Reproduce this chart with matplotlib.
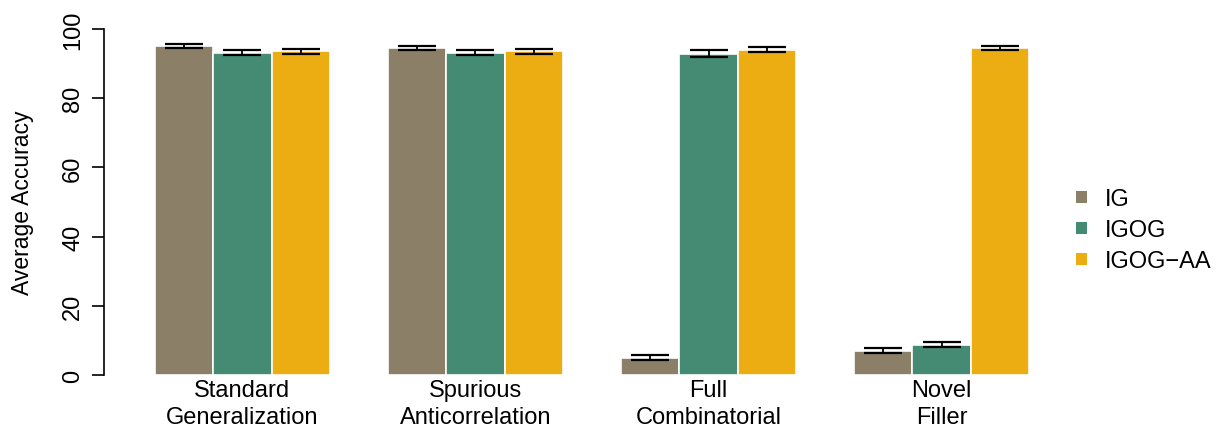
import numpy as np
import matplotlib
matplotlib.use('Agg')
import matplotlib.pyplot as plt
from matplotlib.patches import Patch

plt.rcParams['font.family'] = ['Liberation Sans', 'DejaVu Sans']

groups = ['Standard\nGeneralization', 'Spurious\nAnticorrelation', 'Full\nCombinatorial', 'Novel\nFiller']
models = ['IG', 'IGOG', 'IGOG\u2212AA']
colors = ['#8B7F67', '#458B73', '#ECAD12']

ig = [95.0, 94.4, 5.0, 7.0]
igog = [93.2, 93.2, 92.9, 8.8]
igog_aa = [93.5, 93.5, 94.0, 94.4]
ig_err = [0.6, 0.6, 0.8, 0.7]
igog_err = [0.6, 0.6, 0.9, 0.7]
igog_aa_err = [0.6, 0.6, 0.7, 0.6]

values = [ig, igog, igog_aa]
errors = [ig_err, igog_err, igog_aa_err]

fig = plt.figure(figsize=(12.28, 4.31), dpi=100)
ax = fig.add_axes([155/1228, 55/431, 874/1228, 346/431])

# R-style barplot, beside=TRUE, space=c(0,1)
group_left = 1 + 4*np.arange(len(groups))
for j in range(len(models)):
    x = group_left + j + 0.5
    ax.bar(x, values[j], width=1.0, color=colors[j], edgecolor='white', linewidth=1.2)
    ax.errorbar(x, values[j], yerr=errors[j], fmt='none', ecolor='black',
                elinewidth=1.3, capsize=14, capthick=1.6)

ax.set_xlim(1, 16)
ax.set_ylim(0, 100)
for s in ['top', 'right', 'bottom']:
    ax.spines[s].set_visible(False)
ax.spines['left'].set_position(('outward', 37))
ax.spines['left'].set_bounds(0, 100)
ax.spines['left'].set_linewidth(1.2)
ax.set_yticks([0, 20, 40, 60, 80, 100])
ax.tick_params(axis='y', length=9, width=1.2, labelsize=17, pad=5)
for lab in ax.get_yticklabels():
    lab.set_rotation(90)
    lab.set_va('center')
ax.set_xticks(group_left + 1.5)
ax.set_xticklabels(groups, fontsize=17, linespacing=1.3)
ax.tick_params(axis='x', length=0, pad=3)
ax.set_ylabel('Average Accuracy', fontsize=16.5, labelpad=20)

handles = [Patch(facecolor=c, edgecolor='none') for c in colors]
fig.legend(handles, models, loc='center left', bbox_to_anchor=(1055/1228, 0.463),
           frameon=False, fontsize=17, handlelength=0.45, handleheight=0.45,
           handletextpad=0.75, labelspacing=0.38)

fig.savefig('out.png', dpi=100)
